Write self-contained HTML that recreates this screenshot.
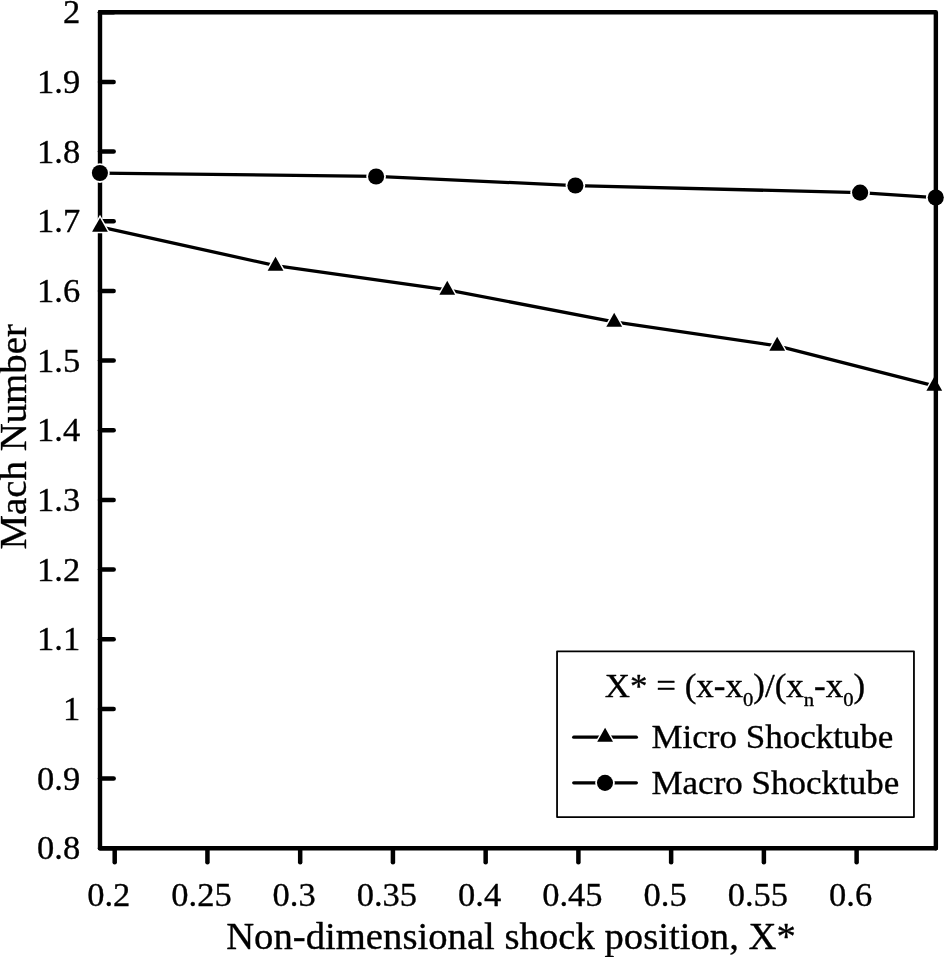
<!DOCTYPE html>
<html lang="en"><head><meta charset="utf-8"><title>Mach Number vs Non-dimensional shock position</title>
<style>
html,body{margin:0;padding:0;background:#fff;}
body{width:944px;height:957px;overflow:hidden;}
svg{display:block;will-change:transform;}
text{font-family:"Liberation Serif","Times New Roman",Times,serif;fill:#000;stroke:#000;stroke-width:0.35px;stroke-linejoin:round;}
.tl{font-size:34.5px;}
.tt{font-size:38.3px;}
.lg{font-size:33px;}
</style></head><body>
<svg width="944" height="957" viewBox="0 0 944 957">
<rect width="944" height="957" fill="#fff"/>
<polyline points="100.0,12.25 100.0,848.3 935.85,848.3" fill="none" stroke="#000" stroke-width="4.4" stroke-linejoin="round" stroke-linecap="round"/>
<g stroke="#000" stroke-width="4.5" stroke-linecap="round">
<line x1="100.0" y1="12.20" x2="113.65" y2="12.20"/>
<line x1="100.0" y1="81.88" x2="113.65" y2="81.88"/>
<line x1="100.0" y1="151.55" x2="113.65" y2="151.55"/>
<line x1="100.0" y1="221.22" x2="113.65" y2="221.22"/>
<line x1="100.0" y1="290.90" x2="113.65" y2="290.90"/>
<line x1="100.0" y1="360.57" x2="113.65" y2="360.57"/>
<line x1="100.0" y1="430.25" x2="113.65" y2="430.25"/>
<line x1="100.0" y1="499.92" x2="113.65" y2="499.92"/>
<line x1="100.0" y1="569.60" x2="113.65" y2="569.60"/>
<line x1="100.0" y1="639.27" x2="113.65" y2="639.27"/>
<line x1="100.0" y1="708.95" x2="113.65" y2="708.95"/>
<line x1="100.0" y1="778.62" x2="113.65" y2="778.62"/>
<line x1="100.0" y1="848.30" x2="113.65" y2="848.30"/>
<line x1="114.70" y1="848.3" x2="114.70" y2="862.25"/>
<line x1="207.44" y1="848.3" x2="207.44" y2="862.25"/>
<line x1="300.18" y1="848.3" x2="300.18" y2="862.25"/>
<line x1="392.92" y1="848.3" x2="392.92" y2="862.25"/>
<line x1="485.66" y1="848.3" x2="485.66" y2="862.25"/>
<line x1="578.40" y1="848.3" x2="578.40" y2="862.25"/>
<line x1="671.14" y1="848.3" x2="671.14" y2="862.25"/>
<line x1="763.88" y1="848.3" x2="763.88" y2="862.25"/>
<line x1="856.62" y1="848.3" x2="856.62" y2="862.25"/>
</g>
<g class="tl" text-anchor="end">
<text transform="translate(80.2,22.90) scale(1.0,1)">2</text>
<text transform="translate(80.2,93.03) scale(1.0,1)">1.9</text>
<text transform="translate(80.2,162.70) scale(1.0,1)">1.8</text>
<text transform="translate(80.2,232.37) scale(1.0,1)">1.7</text>
<text transform="translate(80.2,302.05) scale(1.0,1)">1.6</text>
<text transform="translate(80.2,371.72) scale(1.0,1)">1.5</text>
<text transform="translate(80.2,441.40) scale(1.0,1)">1.4</text>
<text transform="translate(80.2,511.07) scale(1.0,1)">1.3</text>
<text transform="translate(80.2,580.75) scale(1.0,1)">1.2</text>
<text transform="translate(80.2,650.42) scale(1.0,1)">1.1</text>
<text transform="translate(80.2,720.10) scale(1.0,1)">1</text>
<text transform="translate(80.2,789.77) scale(1.0,1)">0.9</text>
<text transform="translate(80.2,859.45) scale(1.0,1)">0.8</text>
</g>
<g class="tl" text-anchor="middle">
<text transform="translate(108.70,906.4) scale(1.0,1)">0.2</text>
<text transform="translate(201.44,906.4) scale(1.0,1)">0.25</text>
<text transform="translate(294.18,906.4) scale(1.0,1)">0.3</text>
<text transform="translate(386.92,906.4) scale(1.0,1)">0.35</text>
<text transform="translate(479.66,906.4) scale(1.0,1)">0.4</text>
<text transform="translate(572.40,906.4) scale(1.0,1)">0.45</text>
<text transform="translate(665.14,906.4) scale(1.0,1)">0.5</text>
<text transform="translate(757.88,906.4) scale(1.0,1)">0.55</text>
<text transform="translate(850.62,906.4) scale(1.0,1)">0.6</text>
</g>
<text class="tt" transform="translate(511.0,948.55) scale(1.0105,1)" text-anchor="middle">Non-dimensional shock position, X*</text>
<text transform="translate(26.4,436.8) rotate(-90) scale(1.009,1)" font-size="38.5" text-anchor="middle">Mach Number</text>
<polyline points="99.90,173.05 376.10,176.45 575.40,185.55 860.10,192.65 935.75,197.55" fill="none" stroke="#000" stroke-width="3.3" stroke-linejoin="round"/>
<polyline points="100.00,226.80 275.55,265.70 447.25,289.85 614.20,321.80 777.20,345.85 934.30,385.80" fill="none" stroke="#000" stroke-width="3.3" stroke-linejoin="round"/>
<circle cx="99.90" cy="173.05" r="8.05" fill="#000" stroke="#fff" stroke-width="3.6" paint-order="stroke"/>
<circle cx="376.10" cy="176.45" r="8.05" fill="#000" stroke="#fff" stroke-width="3.6" paint-order="stroke"/>
<circle cx="575.40" cy="185.55" r="8.05" fill="#000" stroke="#fff" stroke-width="3.6" paint-order="stroke"/>
<circle cx="860.10" cy="192.65" r="8.05" fill="#000" stroke="#fff" stroke-width="3.6" paint-order="stroke"/>
<circle cx="935.75" cy="197.55" r="8.05" fill="#000" stroke="#fff" stroke-width="3.6" paint-order="stroke"/>
<polygon points="100.00,217.78 107.90,231.76 92.10,231.76" fill="#000" stroke="#fff" stroke-width="2.9" stroke-linejoin="miter" paint-order="stroke"/>
<polygon points="275.55,256.68 283.45,270.66 267.65,270.66" fill="#000" stroke="#fff" stroke-width="2.9" stroke-linejoin="miter" paint-order="stroke"/>
<polygon points="447.25,280.83 455.15,294.81 439.35,294.81" fill="#000" stroke="#fff" stroke-width="2.9" stroke-linejoin="miter" paint-order="stroke"/>
<polygon points="614.20,312.78 622.10,326.76 606.30,326.76" fill="#000" stroke="#fff" stroke-width="2.9" stroke-linejoin="miter" paint-order="stroke"/>
<polygon points="777.20,336.83 785.10,350.81 769.30,350.81" fill="#000" stroke="#fff" stroke-width="2.9" stroke-linejoin="miter" paint-order="stroke"/>
<polygon points="934.30,376.78 942.20,390.76 926.40,390.76" fill="#000" stroke="#fff" stroke-width="2.9" stroke-linejoin="miter" paint-order="stroke"/>
<polyline points="100.0,12.25 935.85,12.25 935.85,848.3" fill="none" stroke="#000" stroke-width="4.4" stroke-linejoin="round" stroke-linecap="round"/>
<rect x="557.05" y="651.3" width="356.9" height="165.75" fill="#fff" stroke="#000" stroke-width="1.8" stroke-linejoin="round"/>
<text class="lg" transform="translate(604.7,696.6) scale(1.06,1)">X* = (x-x<tspan font-size="19.5" dy="9.4">0</tspan><tspan dy="-9.4">)/(x</tspan><tspan font-size="19.5" dy="9.4">n</tspan><tspan dy="-9.4">-x</tspan><tspan font-size="19.5" dy="9.4">0</tspan><tspan dy="-9.4">)</tspan></text>
<g stroke="#000" stroke-width="3.3" stroke-linecap="round"><line x1="573.75" y1="737.2" x2="636.35" y2="737.2"/><line x1="573.75" y1="782.8" x2="636.35" y2="782.8"/></g>
<polygon points="605.10,727.83 613.00,741.81 597.20,741.81" fill="#000" stroke="#fff" stroke-width="2.9" stroke-linejoin="miter" paint-order="stroke"/>
<circle cx="605.00" cy="782.85" r="8.05" fill="#000" stroke="#fff" stroke-width="3.6" paint-order="stroke"/>
<text class="lg" transform="translate(651.5,748) scale(1.06,1)">Micro Shocktube</text>
<text class="lg" transform="translate(651.5,793.6) scale(1.06,1)">Macro Shocktube</text>
</svg></body></html>
